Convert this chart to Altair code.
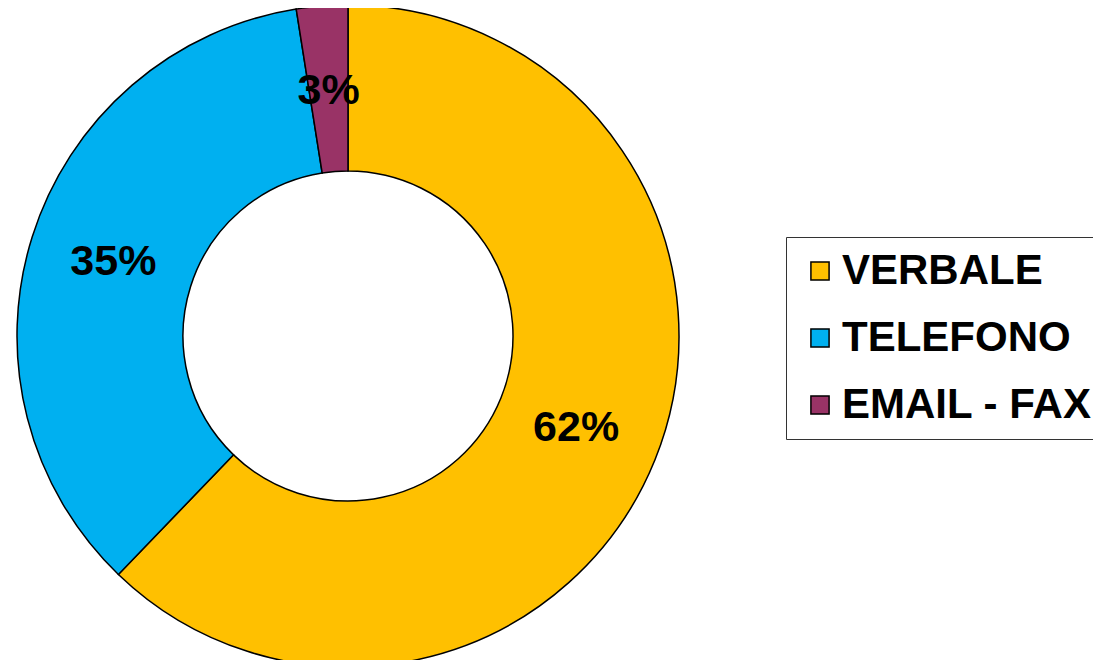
import altair as alt
import pandas as pd

categories = ["VERBALE", "TELEFONO", "EMAIL - FAX"]
values = [62.2, 35.3, 2.5]
labels = ["62%", "35%", "3%"]
order = [1, 2, 3]
colors = ["#FFC000", "#00B0F0", "#993366"]

df = pd.DataFrame({"cat": categories, "val": values, "lab": labels, "ord": order})

CX, CY = 340, 328

base = alt.Chart(df).encode(
    theta=alt.Theta("val:Q", stack=True),
    order=alt.Order("ord:Q", sort="ascending"),
    x=alt.value(CX),
    y=alt.value(CY),
)

arc = base.mark_arc(outerRadius=331, innerRadius=165, stroke="black", strokeWidth=1.5).encode(
    color=alt.Color(
        "cat:N",
        scale=alt.Scale(domain=categories, range=colors),
        sort=categories,
        legend=alt.Legend(
            title=None,
            orient="none",
            legendX=778,
            legendY=229,
            strokeColor="#333333",
            padding=13,
            symbolType="square",
            symbolSize=330,
            symbolStrokeColor="black",
            symbolStrokeWidth=1.5,
            symbolOpacity=1,
            labelFontSize=42,
            labelFont="Liberation Sans",
            labelFontWeight="bold",
            labelColor="black",
            labelOffset=1,
            rowPadding=25,
            labelLimit=400,
        ),
    )
)

text = base.mark_text(radius=246, font="Liberation Sans", fontSize=43, fontWeight="bold", color="black").encode(
    text="lab:N"
)

chart = (
    alt.layer(arc, text)
    .properties(width=1085, height=652, autosize=alt.AutoSizeParams(type="none"), padding=0)
    .configure_view(stroke=None)
)

chart.save("out.html", embed_options={"renderer": "svg", "actions": False})
